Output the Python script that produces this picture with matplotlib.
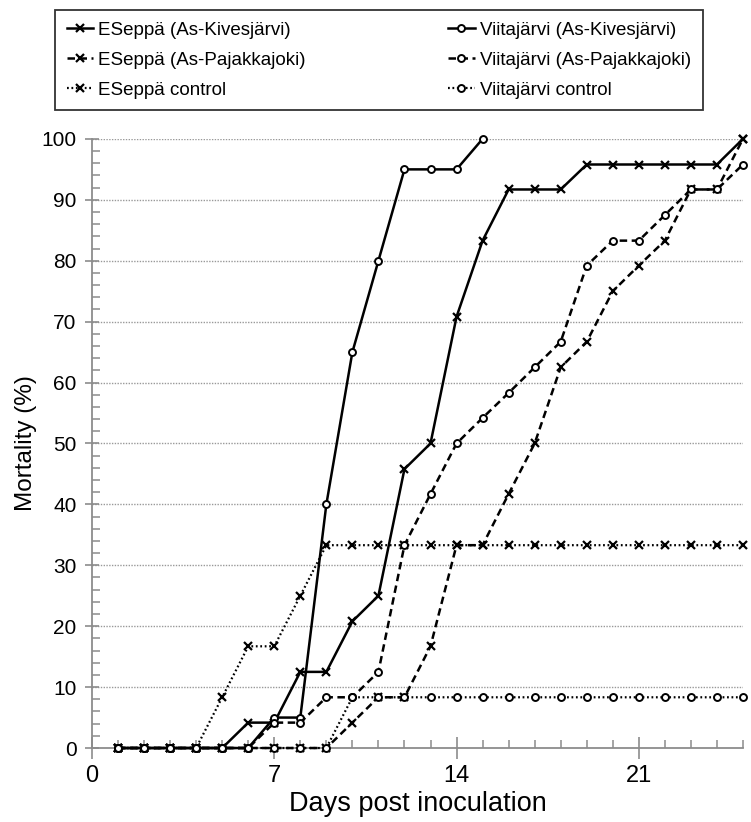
import matplotlib
matplotlib.use("Agg")
import matplotlib.pyplot as plt
from matplotlib.ticker import MultipleLocator

plt.rcParams['font.family'] = ['Liberation Sans', 'DejaVu Sans']

days = [1, 2, 3, 4, 5, 6, 7, 8, 9, 10, 11, 12, 13, 14, 15, 16, 17, 18, 19, 20,
        21, 22, 23, 24, 25]

eseppa_kives = [0, 0, 0, 0, 0, 4.17, 4.17, 12.5, 12.5, 20.8, 25, 45.8, 50, 70.8,
                83.3, 91.7, 91.7, 91.7, 95.8, 95.8, 95.8, 95.8, 95.8, 95.8, 100]
eseppa_paj = [0, 0, 0, 0, 0, 0, 0, 0, 0, 4.17, 8.33, 8.33, 16.7, 33.3, 33.3,
              41.7, 50, 62.5, 66.7, 75, 79.2, 83.3, 91.7, 91.7, 100]
eseppa_ctrl = [0, 0, 0, 0, 8.33, 16.7, 16.7, 25, 33.3, 33.3, 33.3, 33.3, 33.3,
               33.3, 33.3, 33.3, 33.3, 33.3, 33.3, 33.3, 33.3, 33.3, 33.3, 33.3, 33.3]
viita_kives = [0, 0, 0, 0, 0, 0, 5, 5, 40, 65, 80, 95, 95, 95, 100]
viita_paj = [0, 0, 0, 0, 0, 0, 4.17, 4.17, 8.33, 8.33, 12.5, 33.3, 41.7, 50,
             54.2, 58.3, 62.5, 66.7, 79.2, 83.3, 83.3, 87.5, 91.7, 91.7, 95.8]
viita_ctrl = [0, 0, 0, 0, 0, 0, 0, 0, 0, 8.33, 8.33, 8.33, 8.33, 8.33, 8.33,
              8.33, 8.33, 8.33, 8.33, 8.33, 8.33, 8.33, 8.33, 8.33, 8.33]

x_ticks = [0, 7, 14, 21]
y_ticks = [0, 10, 20, 30, 40, 50, 60, 70, 80, 90, 100]

solid = '-'
dashed = (0, (3, 1.8))
dotted = (0, (0.8, 1.2))

fig = plt.figure(figsize=(7.51, 8.22), dpi=100)
ax = fig.add_axes([0.1225, 0.09, 0.8668, 0.741])

grey = '#8c8c8c'
for v in y_ticks[1:]:
    ax.axhline(v, color='#999999', lw=1.0, ls=(0, (1, 1)), zorder=1)

def draw(xs, ys, ls, marker, label):
    if marker == 'o':
        kw = dict(marker='o', markersize=5, markerfacecolor='white',
                  markeredgecolor='black', markeredgewidth=1.4)
    else:
        kw = dict(marker='x', markersize=6, markeredgecolor='black',
                  markeredgewidth=1.6)
    ax.plot(xs, ys, color='black', lw=1.8 if ls != dotted else 1.6,
            linestyle=ls, label=label, clip_on=False, zorder=3, **kw)

draw(days, eseppa_kives, solid, 'x', 'ESeppä (As-Kivesjärvi)')
draw(days, eseppa_paj, dashed, 'x', 'ESeppä (As-Pajakkajoki)')
draw(days, eseppa_ctrl, dotted, 'x', 'ESeppä control')
draw(days[:len(viita_kives)], viita_kives, solid, 'o', 'Viitajärvi (As-Kivesjärvi)')
draw(days, viita_paj, dashed, 'o', 'Viitajärvi (As-Pajakkajoki)')
draw(days, viita_ctrl, dotted, 'o', 'Viitajärvi control')

ax.set_xlim(0, 25)
ax.set_ylim(0, 100)
ax.set_xticks(x_ticks)
ax.set_yticks(y_ticks)
ax.xaxis.set_minor_locator(MultipleLocator(1))
ax.yaxis.set_minor_locator(MultipleLocator(2))

for s in ['top', 'right']:
    ax.spines[s].set_visible(False)
for s in ['left', 'bottom']:
    ax.spines[s].set_color(grey)
    ax.spines[s].set_linewidth(1.3)

ax.tick_params(axis='both', which='major', direction='inout', color=grey, width=1.2)
ax.tick_params(axis='x', which='major', length=16, pad=4, labelsize=17)
ax.tick_params(axis='y', which='major', length=10, pad=6, labelsize=15)
ax.tick_params(axis='both', which='minor', direction='in', color=grey,
               width=1.1, length=6)

ax.set_xlabel('Days post inoculation', fontsize=19.5, labelpad=3)
ax.set_ylabel('Mortality (%)', fontsize=17.5, labelpad=3)

leg = fig.legend(loc='upper left', bbox_to_anchor=(0.0732, 0.8637, 0.8628, 0.1241),
                 mode='expand', borderaxespad=0, ncol=2, fontsize=13.5,
                 frameon=True, fancybox=False, edgecolor='black',
                 handlelength=1.4, numpoints=1, borderpad=0.62,
                 labelspacing=0.68, handletextpad=0.3)
leg.get_frame().set_linewidth(1.3)

fig.savefig('out.png', dpi=100)
